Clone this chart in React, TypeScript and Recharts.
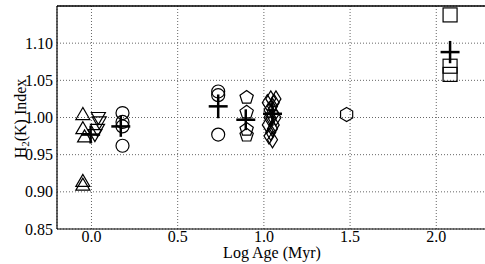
import React from 'react';
import { ScatterChart, Scatter, XAxis, YAxis, CartesianGrid, ErrorBar, ReferenceLine } from 'recharts';

const xTicks = [0, 0.5, 1.0, 1.5, 2.0];
const yTicks = [0.85, 0.9, 0.95, 1.0, 1.05, 1.1];

const triUp = [
  { x: -0.05, y: 1.004 },
  { x: -0.05, y: 0.985 },
  { x: -0.04, y: 0.974 },
  { x: -0.05, y: 0.914 },
  { x: -0.05, y: 0.909 },
];
const triDown = [
  { x: 0.04, y: 1.0 },
  { x: 0.045, y: 0.994 },
  { x: 0.035, y: 0.984 },
  { x: 0.02, y: 0.977 },
];
const circlesA = [
  { x: 0.18, y: 1.006 },
  { x: 0.18, y: 0.994 },
  { x: 0.18, y: 0.988 },
  { x: 0.18, y: 0.962 },
];
const circlesB = [
  { x: 0.735, y: 1.035 },
  { x: 0.735, y: 1.03 },
  { x: 0.735, y: 0.977 },
];
const pentagons = [
  { x: 0.9, y: 1.027 },
  { x: 0.9, y: 1.007 },
  { x: 0.9, y: 0.984 },
  { x: 0.9, y: 0.976 },
];
const diamonds = [
  { x: 1.02, y: 1.02 }, { x: 1.03, y: 1.01 }, { x: 1.02, y: 0.99 }, { x: 1.03, y: 0.975 },
  { x: 1.04, y: 1.025 }, { x: 1.04, y: 1.0 }, { x: 1.05, y: 1.015 }, { x: 1.05, y: 0.985 },
  { x: 1.06, y: 1.02 }, { x: 1.06, y: 1.005 }, { x: 1.07, y: 1.025 }, { x: 1.07, y: 1.0 },
  { x: 1.05, y: 0.97 }, { x: 1.03, y: 1.0 }, { x: 1.06, y: 0.99 }, { x: 1.04, y: 0.98 },
];
const hexagons = [{ x: 1.48, y: 1.004 }];
const squares = [
  { x: 2.08, y: 1.138 },
  { x: 2.08, y: 1.069 },
  { x: 2.08, y: 1.058 },
];
// group means with errors
const means = [
  { x: -0.005, y: 0.977, ex: 0.055, ey: 0.012 },
  { x: 0.17, y: 0.988, ex: 0.055, ey: 0.014 },
  { x: 0.735, y: 1.015, ex: 0.055, ey: 0.016 },
  { x: 0.895, y: 0.997, ex: 0.055, ey: 0.014 },
  { x: 1.05, y: 1.005, ex: 0.055, ey: 0.016 },
  { x: 2.08, y: 1.088, ex: 0.055, ey: 0.015 },
];

const font = 'Liberation Serif, Times New Roman, DejaVu Serif, serif';

const poly = (cx: number, cy: number, n: number, r: number, rot: number) =>
  Array.from({ length: n }, (_, i) => {
    const a = rot + (i * 2 * Math.PI) / n;
    return `${cx + r * Math.cos(a)},${cy + r * Math.sin(a)}`;
  }).join(' ');

const marker = (kind: string) => (props: any) => {
  const { cx, cy } = props;
  const st = { fill: 'none', stroke: '#000', strokeWidth: 1.2 };
  switch (kind) {
    case 'triUp':
      return <polygon points={`${cx},${cy - 7} ${cx - 7},${cy + 5} ${cx + 7},${cy + 5}`} {...st} />;
    case 'triDown':
      return <polygon points={`${cx},${cy + 7} ${cx - 7},${cy - 5} ${cx + 7},${cy - 5}`} {...st} />;
    case 'circle':
      return <circle cx={cx} cy={cy} r={6.5} {...st} />;
    case 'pentagon':
      return <polygon points={poly(cx, cy, 5, 7, -Math.PI / 2)} {...st} />;
    case 'diamond':
      return <polygon points={`${cx},${cy - 8} ${cx + 5},${cy} ${cx},${cy + 8} ${cx - 5},${cy}`} {...st} />;
    case 'hexagon':
      return <polygon points={poly(cx, cy, 6, 7, -Math.PI / 2)} {...st} />;
    case 'square':
      return <rect x={cx - 7} y={cy - 7} width={14} height={14} {...st} />;
    default:
      return <g />;
  }
};

const XTick = (props: any) => {
  const { x, y, payload } = props;
  return (
    <text x={x} y={y + 13} textAnchor="middle" fontFamily={font} fontSize={16} fill="#000">
      {Number(payload.value).toFixed(1)}
    </text>
  );
};

const YTick = (props: any) => {
  const { x, y, payload } = props;
  return (
    <text x={x} y={y + 5.5} textAnchor="end" fontFamily={font} fontSize={16} fill="#000">
      {Number(payload.value).toFixed(2)}
    </text>
  );
};

const XLabel = () => (
  <text x={272} y={258} textAnchor="middle" fontFamily={font} fontSize={16} fill="#000">
    Log Age (Myr)
  </text>
);

const YLabel = () => (
  <text x={20} y={124} transform="rotate(-90, 20, 118.5)" textAnchor="middle"
    fontFamily={font} fontSize={16} fill="#000">
    H<tspan fontSize={11} dy={3}>2</tspan><tspan dy={-3}>(K) Index</tspan>
  </text>
);

export default function App() {
  return (
    <div style={{ position: 'absolute', left: 0, top: 0, width: 485, height: 264, overflow: 'hidden', background: '#fff', fontFamily: font }}>
      <ScatterChart width={488} height={264} margin={{ top: 6, right: 0, bottom: 0, left: 0 }}>
        <CartesianGrid stroke="#666" strokeDasharray="1 2" />
        <XAxis type="number" dataKey="x" domain={[-0.2, 2.3]} ticks={xTicks} allowDataOverflow
          height={35} tick={<XTick />} stroke="#000"
          tickLine={false} tickSize={0} tickMargin={0} axisLine={{ stroke: '#000', strokeWidth: 1.2 }}
          label={<XLabel />} />
        <YAxis type="number" dataKey="y" domain={[0.85, 1.15]} ticks={yTicks} allowDataOverflow
          width={57} tick={<YTick />} stroke="#000"
          tickLine={false} tickSize={0} tickMargin={4} axisLine={{ stroke: '#000', strokeWidth: 1.2 }} label={<YLabel />} />
        <ReferenceLine y={1.15} stroke="#000" strokeWidth={1.5} />
        <Scatter data={triUp} shape={marker('triUp')} isAnimationActive={false} />
        <Scatter data={triDown} shape={marker('triDown')} isAnimationActive={false} />
        <Scatter data={circlesA} shape={marker('circle')} isAnimationActive={false} />
        <Scatter data={circlesB} shape={marker('circle')} isAnimationActive={false} />
        <Scatter data={pentagons} shape={marker('pentagon')} isAnimationActive={false} />
        <Scatter data={diamonds} shape={marker('diamond')} isAnimationActive={false} />
        <Scatter data={hexagons} shape={marker('hexagon')} isAnimationActive={false} />
        <Scatter data={squares} shape={marker('square')} isAnimationActive={false} />
        <Scatter data={means} shape={marker('none')} isAnimationActive={false}>
          <ErrorBar dataKey="ey" direction="y" width={0} stroke="#000" strokeWidth={2.5} isAnimationActive={false} />
          <ErrorBar dataKey="ex" direction="x" width={0} stroke="#000" strokeWidth={2.5} isAnimationActive={false} />
        </Scatter>
      </ScatterChart>
    </div>
  );
}
